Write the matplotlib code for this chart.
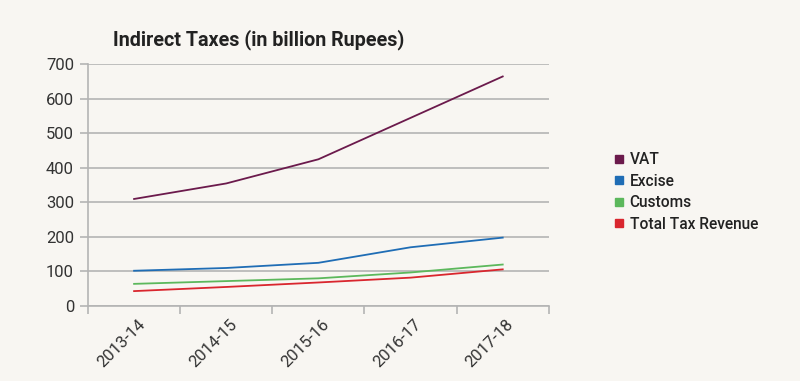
import matplotlib.pyplot as plt
import matplotlib.transforms as mtransforms
from matplotlib.lines import Line2D

years = ["2013-14", "2014-15", "2015-16", "2016-17", "2017-18"]
vat = [310, 355, 425, 545, 665]
excise = [102, 110, 125, 170, 198]
customs = [64, 72, 80, 97, 120]
total = [43, 55, 68, 82, 106]

series = [("VAT", vat, "#6b1a4c"),
          ("Excise", excise, "#1f6db5"),
          ("Customs", customs, "#5cb85c"),
          ("Total Tax Revenue", total, "#d9262e")]

bg = "#f8f6f2"
grid = "#b4b4b4"
plt.rcParams['font.family'] = ['Roboto', 'DejaVu Sans']

fig = plt.figure(figsize=(8, 3.81), dpi=100, facecolor=bg)
ax = fig.add_axes([0.11, 0.197, 0.576, 0.634], facecolor=bg)

x = list(range(len(years)))
for name, vals, col in series:
    ax.plot(x, vals, color=col, lw=1.3, label=name)

ax.set_xlim(-0.5, len(years) - 0.5)
ax.set_ylim(0, 700)
ax.set_yticks(range(0, 701, 100))
ax.yaxis.grid(True, color=grid, lw=1.2)
ax.set_axisbelow(True)

ax.set_xticks(x)
ax.set_xticklabels(years, rotation=45, ha="right", rotation_mode="anchor")
ax.set_xticks([i - 0.5 for i in range(len(years) + 1)], minor=True)
ax.tick_params(axis="x", which="major", length=0, pad=8, labelsize=12, labelcolor="#333333")
ax.tick_params(axis="x", which="minor", length=6, color=grid, width=1.2)
ax.tick_params(axis="y", length=6, color=grid, width=1.2, labelsize=12, labelcolor="#333333", pad=4)
shift = mtransforms.ScaledTranslation(0.03, 0, fig.dpi_scale_trans)
for lab in ax.get_xticklabels():
    lab.set_transform(lab.get_transform() + shift)

for s in ["top", "right"]:
    ax.spines[s].set_visible(False)
for s in ["left", "bottom"]:
    ax.spines[s].set_color(grid)
    ax.spines[s].set_linewidth(1.2)

fig.text(0.141, 0.895, "Indirect Taxes (in billion Rupees)", fontsize=14.2,
         fontweight="bold", color="#222222", va="center")

handles = [Line2D([], [], marker="s", ls="none", color=c, markersize=6) for _, _, c in series]
fig.legend(handles, [n for n, _, _ in series], loc="upper left",
           bbox_to_anchor=(0.748, 0.637), frameon=False,
           handletextpad=0.3, labelspacing=0.42, handlelength=0.8,
           prop={"weight": "medium", "size": 11.2},
           labelcolor="#222222")

fig.savefig("out.png", dpi=100, facecolor=bg)
